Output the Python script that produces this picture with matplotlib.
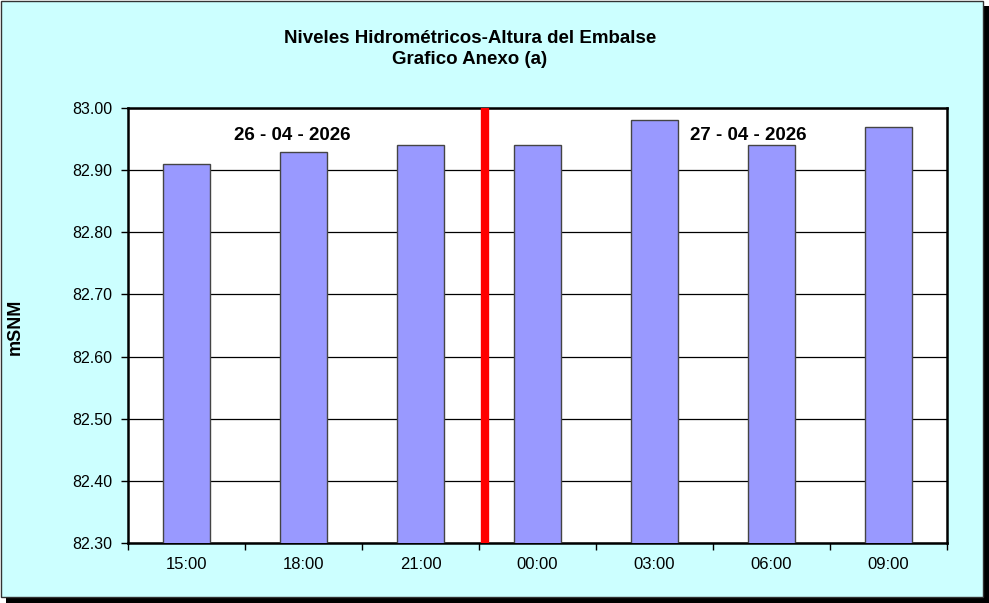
import matplotlib
matplotlib.use("Agg")
import matplotlib.pyplot as plt
from matplotlib.patches import Rectangle
import numpy as np

categories = ["15:00", "18:00", "21:00", "00:00", "03:00", "06:00", "09:00"]
values = [82.91, 82.93, 82.94, 82.94, 82.98, 82.94, 82.97]
yticks = [82.30, 82.40, 82.50, 82.60, 82.70, 82.80, 82.90, 83.00]
date_labels = ["26 - 04 - 2026", "27 - 04 - 2026"]
title = "Niveles Hidrométricos-Altura del Embalse\nGrafico Anexo (a)"
ylabel = "mSNM"

plt.rcParams['font.family'] = ['Liberation Sans', 'DejaVu Sans']

W, H = 989, 603
fig = plt.figure(figsize=(W / 100, H / 100), dpi=100, facecolor="white")

# outer frame with shadow
fig.patches.append(Rectangle((6 / W, 0), (W - 6) / W, (H - 6) / H, transform=fig.transFigure,
                             facecolor="black", edgecolor="none", zorder=-3))
fig.patches.append(Rectangle((0.5 / W, 6 / H), (W - 7) / W, (H - 6.5) / H, transform=fig.transFigure,
                             facecolor="#CCFFFF", edgecolor="#333333", linewidth=1, zorder=-2))

ax = fig.add_axes([128 / W, 1 - 543 / H, 819 / W, 435 / H])
ax.set_facecolor("white")

x = np.arange(len(categories))
ax.bar(x, values, width=0.4, color="#9999FF", edgecolor="#444444", linewidth=1, zorder=3)

ax.set_xlim(-0.5, len(categories) - 0.5)
ax.set_ylim(yticks[0], yticks[-1])
ax.set_yticks(yticks)
ax.set_yticklabels([f"{v:.2f}" for v in yticks], fontsize=11.5)
ax.yaxis.grid(True, color="black", linewidth=0.9, zorder=0)
ax.set_axisbelow(True)

ax.set_xticks(x)
ax.set_xticklabels(categories, fontsize=12)
ax.tick_params(axis="x", which="major", length=0, pad=10)
ax.set_xticks(np.arange(-0.5, len(categories), 1), minor=True)
ax.tick_params(axis="x", which="minor", length=5, width=1, direction="out")
ax.tick_params(axis="y", length=5, width=1, direction="out", pad=6)

for s in ax.spines.values():
    s.set_linewidth(1.8)
    s.set_color("black")

# day separator
ax.axvline(2.55, color="#FF0000", linewidth=6, zorder=4)

ax.text(0.9, 82.955, date_labels[0], fontsize=13.5, fontweight="bold", ha="center", va="center")
ax.text(4.8, 82.955, date_labels[1], fontsize=13.5, fontweight="bold", ha="center", va="center")

fig.text(470 / W, 1 - 49 / H, title, ha="center", va="center", fontsize=13.5,
         fontweight="bold", linespacing=1.25)
fig.text(15 / W, 1 - 327 / H, ylabel, ha="center", va="center", rotation=90,
         fontsize=13, fontweight="bold")

fig.savefig("out.png", dpi=100, facecolor=fig.get_facecolor())
